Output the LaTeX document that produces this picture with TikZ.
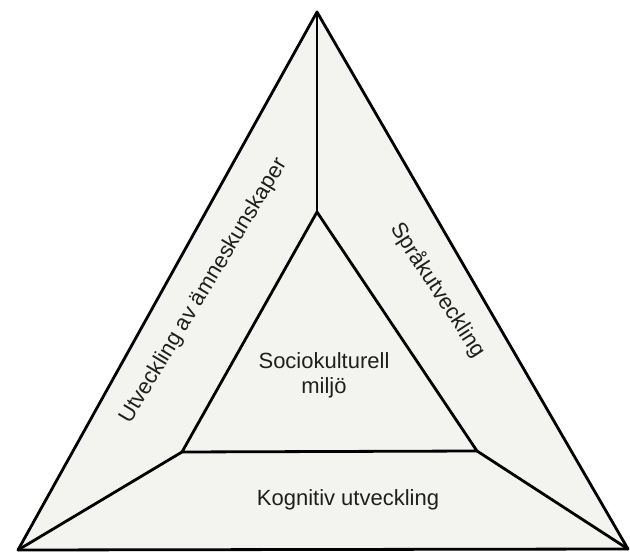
\documentclass[tikz,border=0pt]{standalone}
\usepackage{fontspec}
\setmainfont{Liberation Sans}
\begin{document}
\begin{tikzpicture}[x=1pt,y=1pt,
  edge/.style={line width=2.8pt, line join=round, line cap=round, draw=black},
  lbl/.style={font=\fontsize{22}{25}\selectfont, text=black!88, inner sep=0pt, align=center}]
\definecolor{paper}{RGB}{243,243,240}
\useasboundingbox (0,0) rectangle (630,552);
\fill[white] (0,0) rectangle (630,552);
\coordinate (O1) at (317,540);
\coordinate (O2) at (18,2);
\coordinate (O3) at (628,3);
\coordinate (I1) at (317,340);
\coordinate (I2) at (182,100);
\coordinate (I3) at (477,101);
\fill[paper] (O1) -- (O2) -- (O3) -- cycle;
\draw[edge] (O1) -- (O2) -- (O3) -- cycle;
\draw[edge] (I1) -- (I2) -- (I3) -- cycle;
\draw[edge] (O1) -- (I1);
\draw[edge] (O2) -- (I2);
\draw[edge] (O3) -- (I3);
\node[lbl, rotate=59] (left) at (204,261) {Utveckling av ämneskunskaper};
\node[lbl, rotate=-57] (right) at (438,262) {Språkutveckling};
\node[lbl] (mid) at (324,177) {Sociokulturell\\miljö};
\node[lbl] (bottom) at (348,52) {Kognitiv utveckling};
\end{tikzpicture}
\end{document}
